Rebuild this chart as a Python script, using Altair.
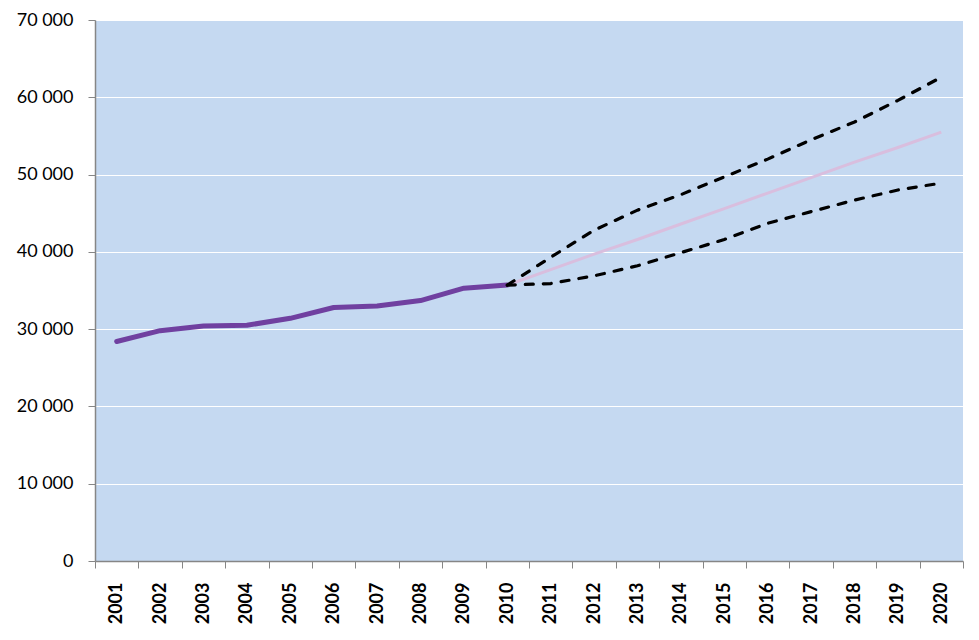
import altair as alt
import pandas as pd

years = [str(y) for y in range(2001, 2021)]

hist_years = years[:10]
hist_values = [28400, 29800, 30400, 30500, 31400, 32800, 33000, 33700, 35300, 35700]

proj_years = years[9:]
trend_values = [35700, 37700, 39700, 41600, 43600, 45600, 47600, 49600, 51600, 53500, 55500]
upper_values = [35700, 39300, 42800, 45400, 47400, 49700, 52000, 54500, 56800, 59600, 62600]
lower_values = [35700, 35900, 36900, 38200, 39900, 41600, 43700, 45200, 46700, 48000, 48900]

rows = []
for y, v in zip(hist_years, hist_values):
    rows.append({"year": y, "value": v, "series": "hist"})
for y, v in zip(proj_years, trend_values):
    rows.append({"year": y, "value": v, "series": "trend"})
for y, v in zip(proj_years, upper_values):
    rows.append({"year": y, "value": v, "series": "upper"})
for y, v in zip(proj_years, lower_values):
    rows.append({"year": y, "value": v, "series": "lower"})
df = pd.DataFrame(rows)

x = alt.X(
    "year:O",
    sort=years,
    scale=alt.Scale(domain=years, paddingInner=0, paddingOuter=0),
    axis=alt.Axis(
        title=None,
        labelAngle=-90,
        labelFont="Lato",
        labelFontWeight="bold",
        labelFontSize=18,
        labelColor="#000000",
        labelPadding=14,
        tickBand="extent",
        tickSize=7,
        tickColor="#868686",
        domainColor="#868686",
        domainWidth=1.5,
        grid=False,
    ),
)
y = alt.Y(
    "value:Q",
    scale=alt.Scale(domain=[0, 70000], nice=False),
    axis=alt.Axis(
        title=None,
        values=[0, 10000, 20000, 30000, 40000, 50000, 60000, 70000],
        labelExpr="replace(format(datum.value, ','), ',', ' ')",
        labelFont="Lato",
        labelFontSize=18,
        labelColor="#000000",
        labelPadding=15,
        tickSize=7,
        tickColor="#868686",
        domainColor="#868686",
        domainWidth=1.5,
        grid=True,
        gridColor="#FFFFFF",
        gridWidth=1.2,
    ),
)

base = alt.Chart(df).encode(x=x, y=y)

hist = base.transform_filter(alt.datum.series == "hist").mark_line(
    color="#7040A0", strokeWidth=5, strokeCap="round", strokeJoin="round"
)
trend = base.transform_filter(alt.datum.series == "trend").mark_line(
    color="#D9BEDE", strokeWidth=3
)
upper = base.transform_filter(alt.datum.series == "upper").mark_line(
    color="#000000", strokeWidth=3.2, strokeDash=[8, 10], strokeCap="round"
)
lower = base.transform_filter(alt.datum.series == "lower").mark_line(
    color="#000000", strokeWidth=3.2, strokeDash=[8, 10], strokeCap="round"
)

chart = (
    alt.layer(hist, trend, upper, lower)
    .properties(
        width=868,
        height=541,
        autosize=alt.AutoSizeParams(type="none"),
        padding={"left": 95, "top": 20, "right": 16, "bottom": 79},
        background="#FFFFFF",
    )
    .configure_view(fill="#C5D9F1", stroke=None)
)

chart.save("out.html", embed_options={"renderer": "svg", "actions": False})
